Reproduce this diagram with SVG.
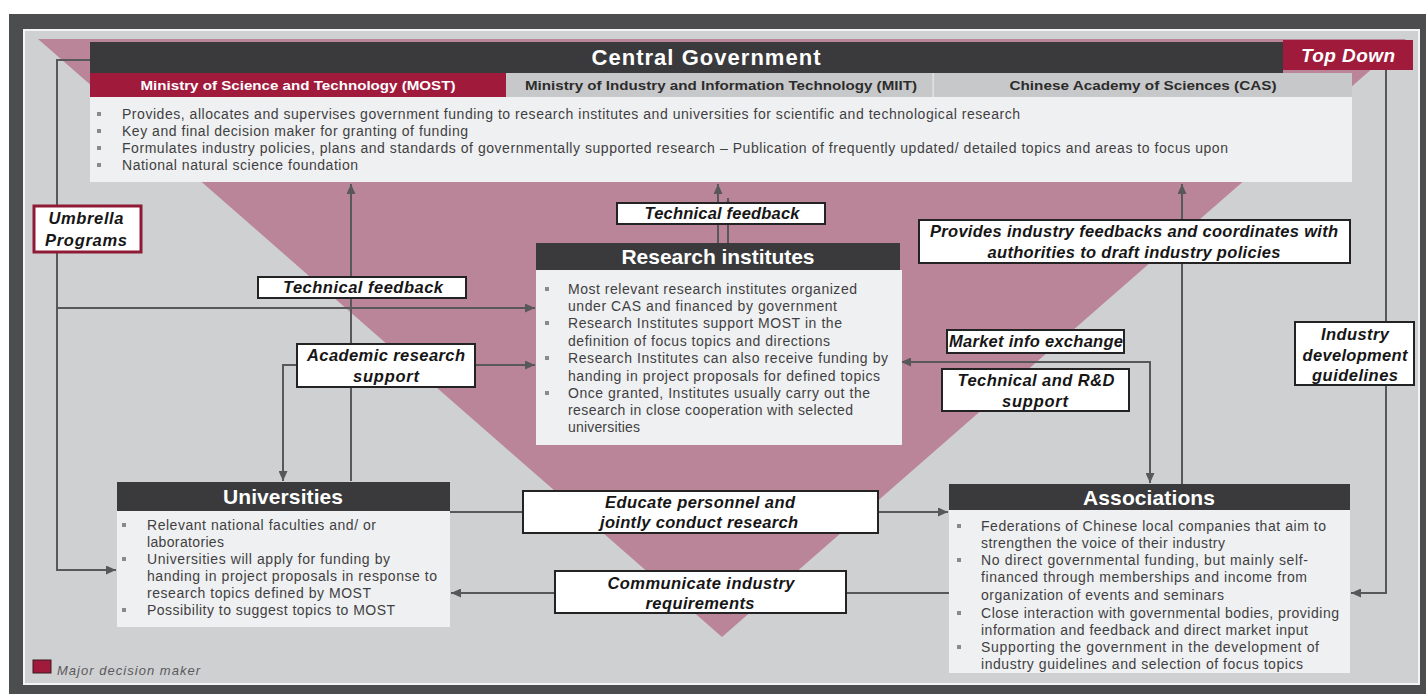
<svg xmlns="http://www.w3.org/2000/svg" width="1426" height="694" viewBox="0 0 1426 694">
<defs>
<style>
text{font-family:"Liberation Sans",Arial,sans-serif}
.body{font-size:14px;fill:#3f3f41}
.bul{fill:#8a8a8c}
.lbl{font-size:16.5px;font-weight:bold;font-style:italic;fill:#161616;text-anchor:middle}
.lbox{fill:#ffffff;stroke:#232323;stroke-width:2}
.hdr{font-size:21px;font-weight:bold;fill:#ffffff;text-anchor:middle}
.hbar{fill:#3a3a3c}
.bbox{fill:#eff0f2}
.min{font-size:13.5px;font-weight:bold;text-anchor:middle}
.con{fill:none;stroke:#58585a;stroke-width:2}
</style>
<marker id="ah" markerUnits="userSpaceOnUse" markerWidth="10" markerHeight="9" refX="10" refY="4.5" orient="auto" viewBox="0 0 10 9">
<path d="M0,0 L10,4.5 L0,9 z" fill="#58585a"/>
</marker>
</defs>

<g id="background">
<rect x="0" y="0" width="1426" height="694" fill="#ffffff"/>
<rect x="9" y="14" width="1417" height="680" fill="#4b4d4f"/>
<rect x="24" y="30" width="1395" height="654" fill="#cfd0d2" stroke="#f4f4f4" stroke-width="2"/>
<polygon points="38,39 1406,39 722,637" fill="#bb8599"/>
</g>

<g id="connectors">
<path class="con" d="M90,60 H57 V570 H116" marker-end="url(#ah)"/>
<path class="con" d="M57,308 H535" marker-end="url(#ah)"/>
<path class="con" d="M351,481 V184" marker-end="url(#ah)"/>
<path class="con" d="M400,365 H535" marker-end="url(#ah)"/>
<path class="con" d="M400,365 H283 V481" marker-end="url(#ah)"/>
<path class="con" d="M718,243 V184" marker-end="url(#ah)"/>
<path class="con" d="M728,243 V198" marker-end="url(#ah)"/>
<path class="con" d="M1150,420 V362 H901" marker-end="url(#ah)"/>
<path class="con" d="M1150,362 V483" marker-end="url(#ah)"/>
<path class="con" d="M1182,484 V184" marker-end="url(#ah)"/>
<path class="con" d="M1386,70 V593 H1351" marker-end="url(#ah)"/>
<path class="con" d="M450,512 H948" marker-end="url(#ah)"/>
<path class="con" d="M949,593 H451" marker-end="url(#ah)"/>
</g>

<g id="central-government">
<rect class="hbar" x="90" y="42" width="1193" height="31"/>
<text class="hdr" x="706" y="65" style="font-size:22px" textLength="229">Central Government</text>
<rect x="90" y="73" width="416" height="24" fill="#a01a3c"/>
<rect x="506" y="73" width="427" height="24" fill="#c7c8ca"/>
<rect x="934" y="73" width="418" height="24" fill="#c7c8ca"/>
<rect x="932.5" y="73" width="1.5" height="24" fill="#e8dde1"/>
<text class="min" x="298" y="90" fill="#ffffff" textLength="315" lengthAdjust="spacingAndGlyphs">Ministry of Science and Technology (MOST)</text>
<text class="min" x="721" y="90" fill="#2c2c2c" textLength="392" lengthAdjust="spacingAndGlyphs">Ministry of Industry and Information Technology (MIIT)</text>
<text class="min" x="1143" y="90" fill="#2c2c2c" textLength="267" lengthAdjust="spacingAndGlyphs">Chinese Academy of Sciences (CAS)</text>
<rect class="bbox" x="90" y="97" width="1262" height="85"/>
<rect class="bul" x="97" y="112" width="4" height="4"/>
<rect class="bul" x="97" y="129" width="4" height="4"/>
<rect class="bul" x="97" y="146" width="4" height="4"/>
<rect class="bul" x="97" y="163" width="4" height="4"/>
<text class="body" x="122" y="119" textLength="898">Provides, allocates and supervises government funding to research institutes and universities for scientific and technological research</text>
<text class="body" x="122" y="136" textLength="346">Key and final decision maker for granting of funding</text>
<text class="body" x="122" y="153" textLength="1106">Formulates industry policies, plans and standards of governmentally supported research – Publication of frequently updated/ detailed topics and areas to focus upon</text>
<text class="body" x="122" y="170" textLength="236">National natural science foundation</text>
</g>

<g id="top-down">
<rect x="1283" y="40" width="130" height="30" fill="#a01a3c"/>
<text x="1348" y="62" font-size="19" font-weight="bold" font-style="italic" fill="#ffffff" text-anchor="middle" textLength="94">Top Down</text>
</g>

<g id="research-institutes">
<rect class="hbar" x="536" y="243" width="364" height="27"/>
<text class="hdr" x="718" y="264" textLength="193">Research institutes</text>
<rect class="bbox" x="536" y="270" width="366" height="175"/>
<rect class="bul" x="545" y="287" width="4" height="4"/>
<rect class="bul" x="545" y="321" width="4" height="4"/>
<rect class="bul" x="545" y="356" width="4" height="4"/>
<rect class="bul" x="545" y="391" width="4" height="4"/>
<text class="body" x="568" y="294" textLength="289">Most relevant research institutes organized</text>
<text class="body" x="568" y="311" textLength="269">under CAS and financed by government</text>
<text class="body" x="568" y="328" textLength="274">Research Institutes support MOST in the</text>
<text class="body" x="568" y="346" textLength="262">definition of focus topics and directions</text>
<text class="body" x="568" y="363" textLength="320">Research Institutes can also receive funding by</text>
<text class="body" x="568" y="381" textLength="312">handing in project proposals for defined topics</text>
<text class="body" x="568" y="398" textLength="302">Once granted, Institutes usually carry out the</text>
<text class="body" x="568" y="415" textLength="285">research in close cooperation with selected</text>
<text class="body" x="568" y="432" textLength="72">universities</text>
</g>

<g id="universities">
<rect class="hbar" x="117" y="482" width="333" height="29"/>
<text class="hdr" x="283" y="504" textLength="120">Universities</text>
<rect class="bbox" x="117" y="511" width="333" height="116"/>
<rect class="bul" x="122" y="523" width="4" height="4"/>
<rect class="bul" x="122" y="557" width="4" height="4"/>
<rect class="bul" x="122" y="608" width="4" height="4"/>
<text class="body" x="147" y="530" textLength="229">Relevant national faculties and/ or</text>
<text class="body" x="147" y="547" textLength="77">laboratories</text>
<text class="body" x="147" y="564" textLength="243">Universities will apply for funding by</text>
<text class="body" x="147" y="581" textLength="290">handing in project proposals in response to</text>
<text class="body" x="147" y="598" textLength="224">research topics defined by MOST</text>
<text class="body" x="147" y="615" textLength="248">Possibility to suggest topics to MOST</text>
</g>

<g id="associations">
<rect class="hbar" x="949" y="484" width="401" height="26"/>
<text class="hdr" x="1149" y="505" textLength="132">Associations</text>
<rect class="bbox" x="949" y="510" width="401" height="163"/>
<rect class="bul" x="957" y="524" width="4" height="4"/>
<rect class="bul" x="957" y="558" width="4" height="4"/>
<rect class="bul" x="957" y="611" width="4" height="4"/>
<rect class="bul" x="957" y="645" width="4" height="4"/>
<text class="body" x="981" y="531" textLength="345">Federations of Chinese local companies that aim to</text>
<text class="body" x="981" y="548" textLength="244">strengthen the voice of their industry</text>
<text class="body" x="981" y="565" textLength="327">No direct governmental funding, but mainly self-</text>
<text class="body" x="981" y="582" textLength="326">financed through memberships and income from</text>
<text class="body" x="981" y="600" textLength="243">organization of events and seminars</text>
<text class="body" x="981" y="618" textLength="358">Close interaction with governmental bodies, providing</text>
<text class="body" x="981" y="635" textLength="327">information and feedback and direct market input</text>
<text class="body" x="981" y="652" textLength="338">Supporting the government in the development of</text>
<text class="body" x="981" y="669" textLength="322">industry guidelines and selection of focus topics</text>
</g>

<g id="edge-labels">
<g id="lbl-umbrella">
<rect x="34" y="206" width="107" height="46" fill="#ffffff" stroke="#8e1a36" stroke-width="3"/>
<text class="lbl" x="86" y="224" textLength="75">Umbrella</text>
<text class="lbl" x="86" y="246" textLength="82">Programs</text>
</g>
<g id="lbl-techfb-top">
<rect class="lbox" x="617" y="203" width="208" height="21"/>
<text class="lbl" x="722" y="219" textLength="155">Technical feedback</text>
</g>
<g id="lbl-techfb-left">
<rect class="lbox" x="258" y="277" width="208" height="21"/>
<text class="lbl" x="363" y="293" textLength="160">Technical feedback</text>
</g>
<g id="lbl-academic">
<rect class="lbox" x="297" y="344" width="178" height="43"/>
<text class="lbl" x="386" y="361" textLength="158">Academic research</text>
<text class="lbl" x="386" y="382" textLength="66">support</text>
</g>
<g id="lbl-provides">
<rect class="lbox" x="919" y="220" width="431" height="43"/>
<text class="lbl" x="1134" y="237" textLength="408">Provides industry feedbacks and coordinates with</text>
<text class="lbl" x="1134" y="258" textLength="293">authorities to draft industry policies</text>
</g>
<g id="lbl-market">
<rect class="lbox" x="947" y="330" width="177" height="23"/>
<text class="lbl" x="1036" y="347" textLength="174">Market info exchange</text>
</g>
<g id="lbl-techrd">
<rect class="lbox" x="942" y="369" width="187" height="42"/>
<text class="lbl" x="1036" y="386" textLength="157">Technical and R&amp;D</text>
<text class="lbl" x="1035" y="407" textLength="66">support</text>
</g>
<g id="lbl-industry">
<rect class="lbox" x="1295" y="322" width="119" height="63"/>
<text class="lbl" x="1355" y="340" textLength="68">Industry</text>
<text class="lbl" x="1355" y="361" textLength="105">development</text>
<text class="lbl" x="1355" y="381" textLength="86">guidelines</text>
</g>
<g id="lbl-educate">
<rect class="lbox" x="523" y="491" width="355" height="42"/>
<text class="lbl" x="700" y="508" textLength="190">Educate personnel and</text>
<text class="lbl" x="699" y="528" textLength="198">jointly conduct research</text>
</g>
<g id="lbl-communicate">
<rect class="lbox" x="555" y="571" width="291" height="42"/>
<text class="lbl" x="701" y="589" textLength="187">Communicate industry</text>
<text class="lbl" x="700" y="609" textLength="109">requirements</text>
</g>
</g>

<g id="legend">
<rect x="33" y="660" width="18" height="13" fill="#a01a3c" stroke="#3a1a22" stroke-width="1"/>
<text x="57" y="675" font-size="13" font-style="italic" fill="#5a5a5c" textLength="143">Major decision maker</text>
</g>
</svg>
